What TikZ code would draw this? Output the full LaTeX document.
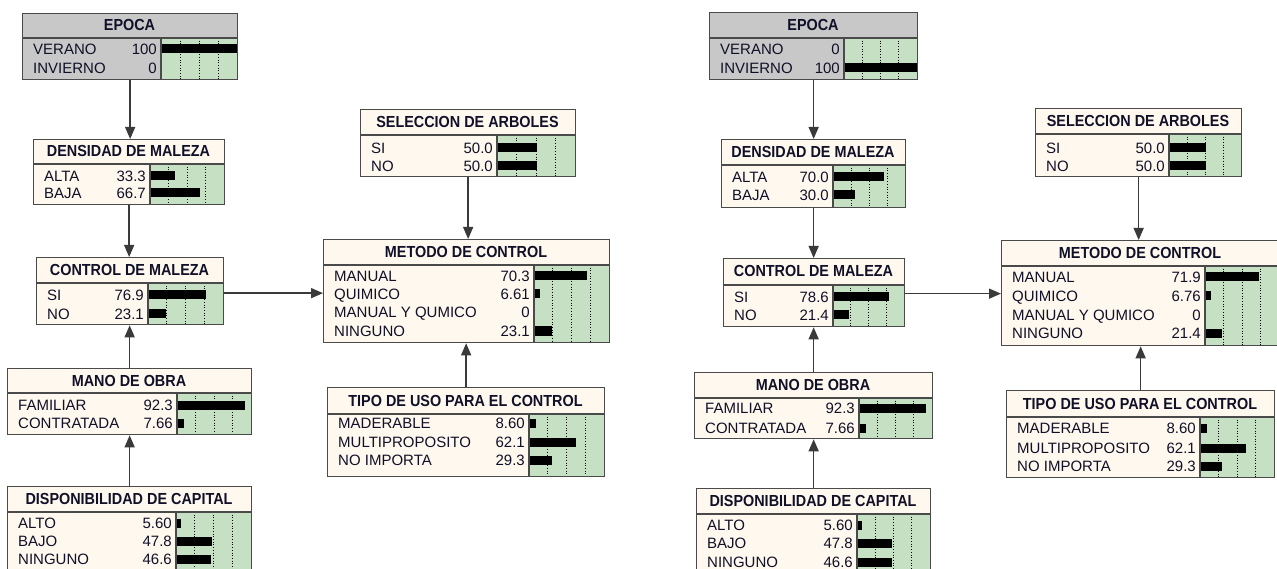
\documentclass[tikz,border=0pt]{standalone}
\usepackage{fontspec}
\setmainfont{Liberation Sans}
\newfontfamily\ttlfont{Liberation Sans}[FakeStretch=0.9]
\usetikzlibrary{arrows.meta}
\definecolor{cream}{HTML}{FFF8EE}
\definecolor{bargreen}{HTML}{C6E0C4}
\definecolor{evgrey}{HTML}{C8C8C8}
\definecolor{boxline}{HTML}{4A4A4A}
\definecolor{txt}{HTML}{101028}
\definecolor{arrowline}{HTML}{3A3A3A}
\tikzset{
  ttl/.style={font=\ttlfont\fontsize{16}{18}\selectfont\bfseries, text=txt, inner sep=0pt, anchor=base},
  lab/.style={font=\fontsize{15}{17}\selectfont, text=txt, inner sep=0pt},
  gridl/.style={black, line width=0.7pt, dotted},
  sepl/.style={boxline, line width=1.1pt},
  outer/.style={draw=boxline, line width=1.3pt, inner sep=0pt, anchor=north west},
  link/.style={arrowline, line width=1.4pt, -{Triangle[length=12pt,width=10pt]}}
}
% name, L, T, R, S, B, Bot, title, fill
\newcommand\bnbox[9]{%
  \fill[#9] (#2,#3) rectangle (#4,#5);
  \fill[#9] (#2,#5) rectangle (#6,#7);
  \fill[bargreen] (#6,#5) rectangle (#4,#7);
  \foreach \q in {0.25,0.5,0.75}{\draw[gridl] ({#6+\q*(#4-#6)},#5) -- ({#6+\q*(#4-#6)},#7);}
  \draw[sepl] (#2,#5) -- (#4,#5);
  \draw[sepl] (#6,#5) -- (#6,#7);
  \node[ttl] (#1-t) at ({(#2+#4)/2},{(#3+#5)/2+5.5}) {#8};
  \node[outer, minimum width={(#4-#2)*1pt}, minimum height={(#7-#3)*1pt}] (#1) at (#2,#3) {};
}
% name, idx, L, B, R, y, label, value, pct
\newcommand\bnrow[9]{%
  \node[lab, anchor=base west] (#1-l#2) at (#3+11,#6+5.5) {#7};
  \node[lab, anchor=base east] (#1-v#2) at (#4-4,#6+5.5) {#8};
  \ifdim #9pt>0pt \fill[black] (#4+1,#6-4.5) rectangle ({#4+1+#9*(#5-#4-1)},#6+4.5);\fi
}
\begin{document}
\begin{tikzpicture}[x=1pt,y=-1pt]
\useasboundingbox (0,0) rectangle (1277,569);
\fill[white] (0,0) rectangle (1277,569);
\clip (0,0) rectangle (1277,569);
% ---------------- left network ----------------
\bnbox{E1}{22}{13}{237}{38}{161}{79}{EPOCA}{evgrey}
\bnrow{E1}{1}{22}{161}{237}{49}{VERANO}{100}{1.0}
\bnrow{E1}{2}{22}{161}{237}{68}{INVIERNO}{0}{0}
\bnbox{D1}{33}{139}{224}{164}{150}{204}{DENSIDAD DE MALEZA}{cream}
\bnrow{D1}{1}{33}{150}{224}{176}{ALTA}{33.3}{0.333}
\bnrow{D1}{2}{33}{150}{224}{193}{BAJA}{66.7}{0.667}
\bnbox{C1}{36}{257}{223}{283}{148}{324}{CONTROL DE MALEZA}{cream}
\bnrow{C1}{1}{36}{148}{223}{295}{SI}{76.9}{0.769}
\bnrow{C1}{2}{36}{148}{223}{314}{NO}{23.1}{0.231}
\bnbox{M1}{7}{368}{251}{393}{177}{434}{MANO DE OBRA}{cream}
\bnrow{M1}{1}{7}{177}{251}{405}{FAMILIAR}{92.3}{0.923}
\bnrow{M1}{2}{7}{177}{251}{423}{CONTRATADA}{7.66}{0.0766}
\bnbox{P1}{7}{486}{251}{512}{176}{580}{DISPONIBILIDAD DE CAPITAL}{cream}
\bnrow{P1}{1}{7}{176}{251}{523}{ALTO}{5.60}{0.056}
\bnrow{P1}{2}{7}{176}{251}{541}{BAJO}{47.8}{0.478}
\bnrow{P1}{3}{7}{176}{251}{559}{NINGUNO}{46.6}{0.466}
\bnbox{S1}{360}{109}{575}{135}{497}{176}{SELECCION DE ARBOLES}{cream}
\bnrow{S1}{1}{360}{497}{575}{148}{SI}{50.0}{0.5}
\bnrow{S1}{2}{360}{497}{575}{166}{NO}{50.0}{0.5}
\bnbox{T1}{323}{239}{609}{265}{534}{342}{METODO DE CONTROL}{cream}
\bnrow{T1}{1}{323}{534}{609}{276}{MANUAL}{70.3}{0.703}
\bnrow{T1}{2}{323}{534}{609}{294}{QUIMICO}{6.61}{0.0661}
\bnrow{T1}{3}{323}{534}{609}{312}{MANUAL Y QUMICO}{0}{0}
\bnrow{T1}{4}{323}{534}{609}{331}{NINGUNO}{23.1}{0.231}
\bnbox{U1}{327}{387}{604}{414}{529}{476}{TIPO DE USO PARA EL CONTROL}{cream}
\bnrow{U1}{1}{327}{529}{604}{423}{MADERABLE}{8.60}{0.086}
\bnrow{U1}{2}{327}{529}{604}{442}{MULTIPROPOSITO}{62.1}{0.621}
\bnrow{U1}{3}{327}{529}{604}{460}{NO IMPORTA}{29.3}{0.293}
% ---------------- right network ----------------
\bnbox{E2}{709}{12}{917}{38}{844}{79}{EPOCA}{evgrey}
\bnrow{E2}{1}{709}{844}{917}{49}{VERANO}{0}{0}
\bnrow{E2}{2}{709}{844}{917}{68}{INVIERNO}{100}{1.0}
\bnbox{D2}{721}{139}{905}{165}{833}{207}{DENSIDAD DE MALEZA}{cream}
\bnrow{D2}{1}{721}{833}{905}{177}{ALTA}{70.0}{0.7}
\bnrow{D2}{2}{721}{833}{905}{195}{BAJA}{30.0}{0.3}
\bnbox{C2}{723}{258}{904}{285}{833}{326}{CONTROL DE MALEZA}{cream}
\bnrow{C2}{1}{723}{833}{904}{297}{SI}{78.6}{0.786}
\bnrow{C2}{2}{723}{833}{904}{315}{NO}{21.4}{0.214}
\bnbox{M2}{694}{372}{932}{398}{859}{438}{MANO DE OBRA}{cream}
\bnrow{M2}{1}{694}{859}{932}{408}{FAMILIAR}{92.3}{0.923}
\bnrow{M2}{2}{694}{859}{932}{428}{CONTRATADA}{7.66}{0.0766}
\bnbox{P2}{696}{488}{930}{514}{857}{580}{DISPONIBILIDAD DE CAPITAL}{cream}
\bnrow{P2}{1}{696}{857}{930}{525}{ALTO}{5.60}{0.056}
\bnrow{P2}{2}{696}{857}{930}{543}{BAJO}{47.8}{0.478}
\bnrow{P2}{3}{696}{857}{930}{562}{NINGUNO}{46.6}{0.466}
\bnbox{S2}{1035}{108}{1241}{134}{1169}{176}{SELECCION DE ARBOLES}{cream}
\bnrow{S2}{1}{1035}{1169}{1241}{148}{SI}{50.0}{0.5}
\bnrow{S2}{2}{1035}{1169}{1241}{166}{NO}{50.0}{0.5}
\bnbox{T2}{1001}{240}{1279}{266}{1205}{345}{METODO DE CONTROL}{cream}
\bnrow{T2}{1}{1001}{1205}{1279}{277}{MANUAL}{71.9}{0.719}
\bnrow{T2}{2}{1001}{1205}{1279}{296}{QUIMICO}{6.76}{0.0676}
\bnrow{T2}{3}{1001}{1205}{1279}{315}{MANUAL Y QUMICO}{0}{0}
\bnrow{T2}{4}{1001}{1205}{1279}{333}{NINGUNO}{21.4}{0.214}
\bnbox{U2}{1006}{390}{1274}{417}{1200}{477}{TIPO DE USO PARA EL CONTROL}{cream}
\bnrow{U2}{1}{1006}{1200}{1274}{428}{MADERABLE}{8.60}{0.086}
\bnrow{U2}{2}{1006}{1200}{1274}{448}{MULTIPROPOSITO}{62.1}{0.621}
\bnrow{U2}{3}{1006}{1200}{1274}{466}{NO IMPORTA}{29.3}{0.293}
% ---------------- links ----------------
\foreach \n in {1,2}{
  \draw[link] (E\n.south) -- (E\n.south |- D\n.north);
  \draw[link] (D\n.south) -- (D\n.south |- C\n.north);
  \draw[link] (M\n.north) -- (M\n.north |- C\n.south);
  \draw[link] (P\n.north) -- (P\n.north |- M\n.south);
  \draw[link] (S\n.south) -- (S\n.south |- T\n.north);
  \draw[link] (U\n.north) -- (U\n.north |- T\n.south);
}
\draw[link] ([yshift=-2pt]C1.east) -- ([yshift=-2pt]C1.east -| T1.west);
\draw[link] ([yshift=-1pt]C2.east) -- ([yshift=-1pt]C2.east -| T2.west);
\end{tikzpicture}
\end{document}
